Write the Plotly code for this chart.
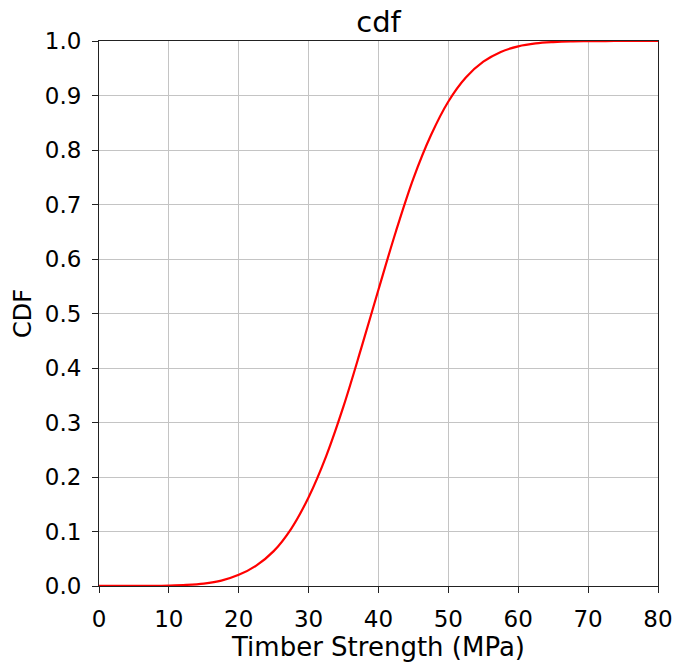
import plotly.graph_objects as go

# Values
strength_mpa = [0, 2.5, 5, 7.5, 10, 12.5, 15, 17.5, 20, 22.5, 25, 27.5, 30,
                32.5, 35, 37.5, 40, 42.5, 45, 47.5, 50, 52.5, 55, 57.5, 60,
                62.5, 65, 67.5, 70, 72.5, 75, 77.5, 80]
cdf_values = [0.0001, 0.0001, 0.0002, 0.0004, 0.0009, 0.002, 0.0045, 0.0098,
              0.0205, 0.0375, 0.064, 0.105, 0.163, 0.238, 0.33, 0.435, 0.544,
              0.651, 0.748, 0.827, 0.889, 0.933, 0.962, 0.98, 0.9902, 0.9955,
              0.998, 0.9993, 0.9997, 0.9999, 1.0, 1.0, 1.0]
x_ticks = [0, 10, 20, 30, 40, 50, 60, 70, 80]
y_ticks = [0.0, 0.1, 0.2, 0.3, 0.4, 0.5, 0.6, 0.7, 0.8, 0.9, 1.0]

FONT = "DejaVu Sans"
TXT = "#000000"

fig = go.Figure()
fig.add_trace(go.Scatter(
    x=strength_mpa, y=cdf_values, mode="lines",
    line=dict(color="#ff0000", width=2.2, shape="spline", smoothing=1.0),
    showlegend=False, hoverinfo="x+y",
))

axis_common = dict(
    showgrid=True, gridcolor="#c4c4c4", gridwidth=1,
    showline=True, linecolor="#222222", linewidth=1, mirror=True,
    ticks="outside", ticklen=6, tickwidth=1, tickcolor="#222222",
    tickfont=dict(family=FONT, size=23, color=TXT),
    zeroline=False, automargin=False,
)

fig.update_layout(
    width=677, height=663,
    margin=dict(l=99, r=19, t=41, b=77),
    paper_bgcolor="white", plot_bgcolor="white",
    font=dict(family=FONT, color=TXT),
    title=dict(text="cdf", x=0.5, xref="paper", y=1 - 22 / 663,
               yref="container", xanchor="center", yanchor="middle",
               font=dict(family=FONT, size=29, color=TXT)),
    xaxis=dict(range=[0, 80], tickvals=x_ticks,
               ticktext=[str(v) for v in x_ticks],
               ticklabelstandoff=6,
               title=dict(text="Timber Strength (MPa)", standoff=6,
                          font=dict(family=FONT, size=26, color=TXT)),
               **axis_common),
    yaxis=dict(range=[0, 1], tickvals=y_ticks,
               ticktext=[f"{v:.1f}" for v in y_ticks],
               ticklabelstandoff=6,
               title=dict(text="CDF", standoff=6,
                          font=dict(family=FONT, size=24, color=TXT)),
               **axis_common),
)

fig.write_html("out.html",
               config={"displayModeBar": False},
               post_script="document.body.style.margin='0';"
                           "document.body.style.overflow='hidden';")
